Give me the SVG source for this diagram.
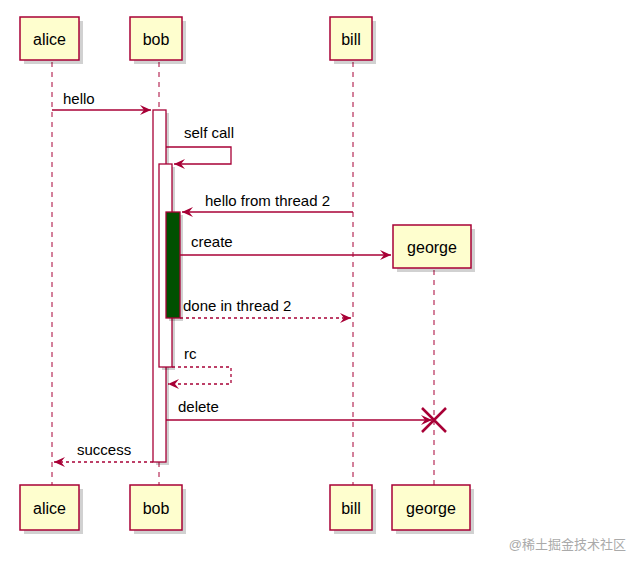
<svg xmlns="http://www.w3.org/2000/svg" width="641" height="566" viewBox="0 0 641 566">
<defs>
<style>
.box{fill:#FEFECE;stroke:#A80036;stroke-width:1.5}
.sh{fill:#000;opacity:0.18}
.life{stroke:#A80036;stroke-width:1;stroke-dasharray:5,5}
.t{font-family:"Liberation Sans",Arial,sans-serif;font-size:16px;fill:#000}
.m{font-family:"Liberation Sans",Arial,sans-serif;font-size:15px;fill:#000}
.ln{stroke:#A80036;stroke-width:1.3;fill:none}
.d{stroke-dasharray:3,3}
.act{fill:#fff;stroke:#A80036;stroke-width:1.3}
</style>
<marker id="ah" viewBox="0 0 12 12" refX="11" refY="6" markerWidth="12" markerHeight="12" markerUnits="userSpaceOnUse" orient="auto"><path d="M0,1 L11,6 L0,11 L4,6 Z" fill="#A80036"/></marker>
</defs>
<rect width="641" height="566" fill="#fff"/>
<g id="lifelines">
<line class="life" x1="52" y1="62" x2="52" y2="485"/>
<line class="life" x1="159" y1="62" x2="159" y2="485"/>
<line class="life" x1="353" y1="62" x2="353" y2="485"/>
<line class="life" x1="434" y1="270" x2="434" y2="485"/>
</g>
<g id="activations">
<rect class="sh" x="156" y="113" width="13" height="352"/>
<rect class="act" x="153" y="110" width="13" height="352"/>
<rect class="sh" x="162" y="167" width="13" height="203"/>
<rect class="act" x="159" y="164" width="13" height="203"/>
<rect class="sh" x="169" y="215" width="14" height="106"/>
<rect x="166" y="212" width="14" height="106" fill="#005000" stroke="#A80036" stroke-width="1.3"/>
</g>
<g id="alice"><rect class="sh" x="24" y="21" width="59" height="43"/><rect class="box" x="20" y="17" width="59" height="43"/><text class="t" x="49.5" y="45" text-anchor="middle">alice</text></g>
<g id="bob"><rect class="sh" x="134" y="21" width="52" height="43"/><rect class="box" x="130" y="17" width="52" height="43"/><text class="t" x="156" y="45" text-anchor="middle">bob</text></g>
<g id="bill"><rect class="sh" x="334" y="21" width="42" height="43"/><rect class="box" x="330" y="17" width="42" height="43"/><text class="t" x="351" y="45" text-anchor="middle">bill</text></g>
<g id="george"><rect class="sh" x="397" y="229" width="78" height="43"/><rect class="box" x="393" y="225" width="78" height="43"/><text class="t" x="432" y="253" text-anchor="middle">george</text></g>
<g id="alice-bottom"><rect class="sh" x="24" y="489" width="59" height="45"/><rect class="box" x="20" y="485" width="59" height="45"/><text class="t" x="49.5" y="514" text-anchor="middle">alice</text></g>
<g id="bob-bottom"><rect class="sh" x="134" y="489" width="52" height="45"/><rect class="box" x="130" y="485" width="52" height="45"/><text class="t" x="156" y="514" text-anchor="middle">bob</text></g>
<g id="bill-bottom"><rect class="sh" x="334" y="489" width="42" height="45"/><rect class="box" x="330" y="485" width="42" height="45"/><text class="t" x="351" y="514" text-anchor="middle">bill</text></g>
<g id="george-bottom"><rect class="sh" x="396" y="489" width="78" height="45"/><rect class="box" x="392" y="485" width="78" height="45"/><text class="t" x="431" y="514" text-anchor="middle">george</text></g>
<g id="connectors">
<line class="ln" x1="52" y1="110" x2="151" y2="110" marker-end="url(#ah)"/>
<text class="m" x="63" y="104">hello</text>
<polyline class="ln" points="166,147 231,147 231,164 174,164" marker-end="url(#ah)"/>
<text class="m" x="184" y="138">self call</text>
<line class="ln" x1="353" y1="212" x2="182" y2="212" marker-end="url(#ah)"/>
<text class="m" x="205" y="206">hello from thread 2</text>
<line class="ln" x1="180" y1="255" x2="391" y2="255" marker-end="url(#ah)"/>
<text class="m" x="191" y="247">create</text>
<line class="ln d" x1="180" y1="318" x2="351" y2="318" marker-end="url(#ah)"/>
<text class="m" x="183" y="311">done in thread 2</text>
<polyline class="ln d" points="172,367 231,367 231,384 168,384" marker-end="url(#ah)"/>
<text class="m" x="184" y="359">rc</text>
<line class="ln" x1="166" y1="420" x2="432" y2="420" marker-end="url(#ah)"/>
<text class="m" x="178" y="412">delete</text>
<path d="M422,408 L446,432 M446,408 L422,432" stroke="#A80036" stroke-width="2.5"/>
<line class="ln d" x1="153" y1="462" x2="54" y2="462" marker-end="url(#ah)"/>
<text class="m" x="77" y="455">success</text>
</g>
<text x="626" y="549" text-anchor="end" font-family="'Liberation Sans','Noto Sans CJK SC',sans-serif" font-size="13" fill="#aaa">@稀土掘金技术社区</text>
</svg>
